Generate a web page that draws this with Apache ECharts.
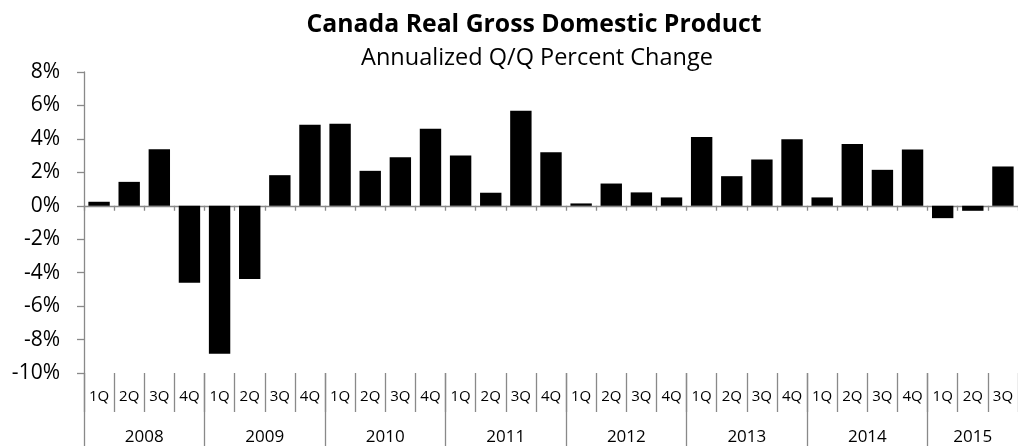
<!DOCTYPE html>
<html>
<head>
<meta charset="utf-8">
<script src="https://cdn.jsdelivr.net/npm/echarts@6/dist/echarts.min.js"></script>
<style>
html,body{margin:0;padding:0;background:#fff;}
#chart{width:1018px;height:446px;}
</style>
</head>
<body>
<div id="chart"></div>
<script>
const titleText = 'Canada Real Gross Domestic Product';
const subtitleText = 'Annualized Q/Q Percent Change';
const categories = [
  '1Q','2Q','3Q','4Q', '1Q','2Q','3Q','4Q', '1Q','2Q','3Q','4Q', '1Q','2Q','3Q','4Q',
  '1Q','2Q','3Q','4Q', '1Q','2Q','3Q','4Q', '1Q','2Q','3Q','4Q', '1Q','2Q','3Q'
];
const years = ['2008','2009','2010','2011','2012','2013','2014','2015'];
const quartersPerYear = [4,4,4,4,4,4,4,3];
const gdpChange = [
  0.24, 1.43, 3.38, -4.6,
  -8.85, -4.38, 1.83, 4.84,
  4.9, 2.09, 2.9, 4.6,
  3.0, 0.78, 5.69, 3.2,
  0.14, 1.33, 0.8, 0.5,
  4.12, 1.77, 2.77, 3.98,
  0.5, 3.7, 2.15, 3.36,
  -0.74, -0.3, 2.35
];
const yTicks = [-10, -8, -6, -4, -2, 0, 2, 4, 6, 8];

// year boundaries and centres on the quarter scale
const yearStarts = [];
const yearCentres = [];
let acc = 0;
quartersPerYear.forEach(function (n) {
  yearStarts.push(acc);
  yearCentres.push(acc + n / 2);
  acc += n;
});

const FONT = '"Open Sans", "Noto Sans", sans-serif';
const GRAY = '#898989';

const chart = echarts.init(document.getElementById('chart'), null, {renderer: 'canvas'});
chart.setOption({
  animation: false,
  backgroundColor: '#ffffff',
  title: [
    {
      text: titleText,
      left: 534,
      top: 12,
      padding: 0,
      textAlign: 'center',
      textStyle: {fontFamily: FONT, fontSize: 24.8, fontWeight: 'bold', color: '#000'}
    },
    {
      text: subtitleText,
      left: 537,
      top: 46,
      padding: 0,
      textAlign: 'center',
      textStyle: {fontFamily: FONT, fontSize: 23.5, fontWeight: 'normal', color: '#000'}
    }
  ],
  grid: {left: 84, top: 72, width: 943, height: 301.5, containLabel: false},
  xAxis: [
    {
      type: 'category',
      data: categories,
      axisLine: {show: true, onZero: true, lineStyle: {color: GRAY, width: 1.3}},
      axisTick: {show: true, length: 5, lineStyle: {color: GRAY, width: 1.3}},
      axisLabel: {show: false},
      splitLine: {show: false}
    },
    {
      type: 'category',
      data: categories,
      position: 'bottom',
      axisLine: {show: false, onZero: false},
      axisTick: {show: true, length: 39, interval: 0, lineStyle: {color: GRAY, width: 1.3}},
      axisLabel: {show: true, interval: 0, margin: 16, fontFamily: FONT, fontSize: 15, color: '#000'},
      splitLine: {show: false}
    },
    {
      type: 'value',
      min: 0,
      max: categories.length,
      position: 'bottom',
      axisLine: {show: false, onZero: false},
      axisTick: {show: true, length: 74, customValues: yearStarts, lineStyle: {color: GRAY, width: 1.3}},
      axisLabel: {
        show: true,
        customValues: yearCentres,
        margin: 56,
        fontFamily: FONT,
        fontSize: 17,
        color: '#000',
        formatter: function (v) {
          const i = yearCentres.indexOf(v);
          return i >= 0 ? years[i] : '';
        }
      },
      splitLine: {show: false}
    }
  ],
  yAxis: {
    type: 'value',
    min: yTicks[0],
    max: yTicks[yTicks.length - 1],
    interval: 2,
    axisLine: {show: true, lineStyle: {color: GRAY, width: 1.3}},
    axisTick: {show: true, length: 7, lineStyle: {color: GRAY, width: 1.3}},
    axisLabel: {margin: 24, fontFamily: FONT, fontSize: 21, color: '#000', formatter: '{value}%'},
    splitLine: {show: false}
  },
  series: [
    {
      type: 'bar',
      xAxisIndex: 0,
      data: gdpChange,
      barWidth: '71%',
      itemStyle: {color: '#000000'}
    }
  ]
});
</script>
</body>
</html>
